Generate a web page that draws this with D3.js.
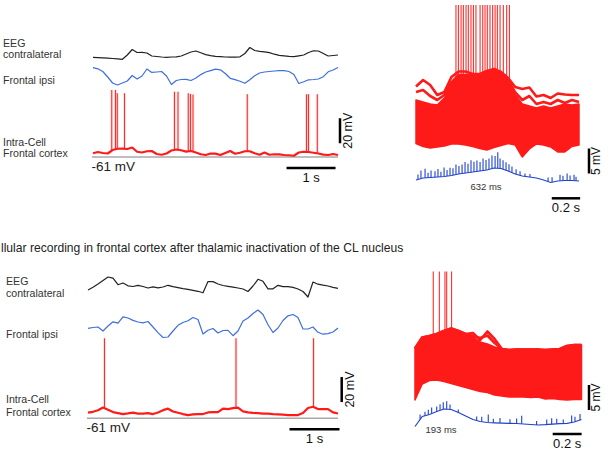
<!DOCTYPE html>
<html>
<head>
<meta charset="utf-8">
<script src="https://cdn.jsdelivr.net/npm/d3@7"></script>
<style>
  body { margin: 0; background: #fff; }
  svg { display: block; }
  text { font-family: "Liberation Sans", Arial, sans-serif; }
</style>
</head>
<body>
<div id="chart"></div>
<script>
// 1: DATA

// left traces, one sample every 0.1 s over 5 s
const leftStep = 0.1;

// control condition (top)
const eegTop = [0, -0.3, -0.6, -0.9, -1.2, -1.6, -2, 2.3, 7.8, 4.8, 4.9, 4.3, 1.3, 0.8, 0.3, 0, 0.3, 0.5, 1.3, 3.3,
  5.3, 6.3, 4.5, 2.7, 1.7, 1, 0.6, 0.3, 0.1, 0.1, 0.5, 3.8, 9.8, 6.8, 6, 5.5, 4.7, 3.1, 1.9, 1.4,
  0.9, 0.7, 1.5, 2.3, 4.8, 6.5, 6.3, 3.8, 1.3, 1.8, 2.3];
const ipsiTop = [17.3, 16.2, 13.5, 8, 2, 0, 2, 4, 9.5, 6, 9, 16, 12.6, 13, 13.5, 9, 0.5, 4.5, 5.5, 5.7,
  4.5, 7, 10.4, 13, 14.4, 15.8, 15.2, 11.5, 6.7, 5.4, 3.7, 1.7, 5.2, 9.2, 12, 13, 13.5, 14, 14.3, 14.3,
  13.5, 10.5, 1.5, 3.2, 5.2, 5.5, 6, 8.3, 13.2, 15, 17.5];
const cellTop = [-58.0, -57.0, -57.8, -58.2, -55.4, -54.4, -54.3, -54.6, -53.4, -56.8, -57.4, -56.4, -56.2, -58.6, -59.2, -58.2, -55.8, -55.0, -55.6, -56.7,
  -56.2, -57.4, -58.8, -59.4, -58.2, -58.3, -59.4, -57.8, -56.2, -58.4, -57.6, -56.4, -56.4, -58.0, -59.2, -57.4, -59.2, -58.8, -58.9, -59.4,
  -59.6, -60.0, -57.4, -56.8, -57.0, -57.6, -58.2, -59.1, -59.4, -58.6, -59.4];
const spikeTimesTop = [0.382, 0.459, 0.496, 0.643, 1.663, 1.735, 1.945, 1.99, 2.041, 3.149, 4.357, 4.398, 4.578];
const spikePeaksTop = [-7.4, -7.4, -10, -10, -8.8, -8.8, -10, -10.5, -11, -10.8, -10.8, -10.8, -10.8];

// after CL inactivation (bottom)
const eegBottom = [0, 2.7, 6, 9.5, 13, 11.8, 5.3, 7, 4.2, 3.5, 4.6, 3.5, 2, 3.2, 2.2, 3, 4.7, 3.4, 2.4, 1.4,
  0.6, -0.3, -1.3, -2.8, 8.5, 8.4, 6, 4.5, 3.6, 2.8, 2, 1, -1.5, 4, 10.7, 8.7, 1.2, 1.2, 4.7, 3.4,
  3.3, 2.6, 1, -1.5, -7, 8, 5.8, 4.8, 4, 2.7, 1.7];
const ipsiBottom = [11.7, 12.5, 13, 9, 14, 18.2, 16.8, 23.2, 22, 19.6, 18, 17.2, 18.5, 13, 7.4, 2.5, 3, 9, 14.7, 17.5,
  19.2, 22.5, 20.5, 6, 9.7, 11.5, 7, 9.5, 9.7, 4.3, 9, 19, 22, 26.5, 30, 25.5, 15.3, 7.5, 12, 19.5,
  24.2, 25.5, 22.5, 11, 11, 13, 7.7, 5.8, 6.4, 8, 12];
const cellBottom = [-56.5, -55.8, -54.6, -52.4, -54.2, -56.0, -56.8, -57.6, -57.1, -56.5, -57.2, -57.2, -56.8, -57.6, -56.3, -54.5, -53.3, -55.6, -56.6, -57.6,
  -58.4, -57.9, -57.6, -57.6, -56.3, -56.0, -56.0, -53.2, -53.6, -52.8, -52.4, -55.4, -56.2, -56.7, -56.9, -57.2, -57.3, -57.6, -57.8, -58.0,
  -58.4, -58.4, -58.4, -56.7, -52.8, -51.8, -53.6, -53.7, -53.6, -56.3, -57.2];
const spikeTimesBottom = [0.33, 2.96, 4.51];
const spikePeaksBottom = [3, 3, 3];

// right panels: superimposed sweeps (mV above the lowest sweep), every 0.05 s
const rightStep = 0.05;
// top: dense part of the sweeps (lo..mid) and two outlying sweeps above it
const bandLoTop = [1.3, 0.7, 0.4, 0.6, 0.8, 1.2, 1.2, 1, 0.7, 0.3, 0, 0.5, 0.9, 1.3, 1, -1.4, 0.2, 1.2, 1, 0.6, -0.4, -0.4, 0.7, 1];
const bandMidTop = [10, 9.6, 9.2, 9, 10.4, 13, 14.8, 15, 14.8, 14.8, 15.2, 15.6, 14.8, 13.6, 11, 9.2, 8.8, 8.4, 8.8, 8.4, 8.8, 9.2, 9, 9.2];
const sweepHiTop = [12.7, 14, 13, 11, 11.6, 14.6, 15.7, 15.7, 15.2, 15.2, 15.8, 16.2, 15.6, 14.4, 12.6, 12.2, 12.5, 10.7, 11, 10.4, 11.3, 11.1, 11, 11];
const sweepMidTop = [11.6, 12, 10.8, 10, 11, 13.5, 15, 15, 15, 15, 15.5, 15.8, 15.2, 14, 11.5, 10, 10.8, 9.2, 9.6, 9.2, 10, 9.4, 10, 9.6];
const burstTimesTop = [0.282, 0.299, 0.318, 0.334, 0.353, 0.369, 0.388, 0.405, 0.423, 0.452, 0.471, 0.487, 0.503, 0.522, 0.541, 0.558, 0.574, 0.593, 0.616, 0.64, 0.659];
const burstPeakTop = 29;
const avgTop = [2, 4, 4.5, 5, 5.5, 6.5, 8, 9, 10, 11, 12, 14, 13.5, 11, 8, 6, 5, 4, 2, -0.5, 1, 1.5, 1.5, 1];
const avgTickTimesTop = [0.014, 0.035, 0.064, 0.085, 0.106, 0.134, 0.155, 0.176, 0.198, 0.219, 0.24, 0.261, 0.282, 0.303, 0.325, 0.346, 0.367, 0.388, 0.409, 0.43, 0.452, 0.473,
  0.494, 0.515, 0.536, 0.558, 0.577, 0.593, 0.614, 0.635, 0.656, 0.677, 0.706, 0.734, 0.769, 0.804, 0.932, 0.96, 1.016, 1.037, 1.066, 1.087, 1.115, 1.129];
const avgTickSizesTop = [5, 8, 9, 5, 7, 6, 8, 5, 9, 6, 8, 7, 10, 8, 9, 11, 9, 12, 10, 11, 9, 12,
  10, 11, 13, 12, 16, 10, 9, 8, 7, 6, 5, 4, 3, 3, 4, 5, 6, 5, 7, 5, 6, 4];

// bottom
const bandLoBottom = [0, 3.2, 3.9, 4, 3.7, 3.3, 2.9, 2.5, 2.1, 1.7, 1.5, 1, 0.8, 0.6, 0.6, 0.6, 0.5, 0.6, 0.2, 0.3, 0.1, 0, 0.1, 0.1];
const bandMidBottom = [10.3, 12.5, 12.8, 13.2, 13.8, 14.3, 13.8, 13.2, 12.6, 11.6, 11.2, 10.6, 10.2, 10, 10.1, 10.1, 10.1, 10.1, 10, 10.1, 10.2, 10.8, 11, 11];
const sweepHiBottom = [10.3, 12.5, 12.8, 13.2, 13.8, 14.3, 13.8, 13.2, 13.4, 12, 13.7, 12.2, 10.2, 10, 10.1, 10.1, 10.1, 10.1, 10, 10.1, 10.2, 10.8, 11, 11];
const sweepMidBottom = [10.3, 12.5, 12.8, 13.2, 13.8, 14.3, 13.8, 13.2, 12.8, 12.4, 12.9, 11.4, 10.2, 10, 10.1, 10.1, 10.1, 10.1, 10, 10.1, 10.2, 10.8, 11, 11];
const burstTimesBottom = [0.126, 0.168, 0.207, 0.219, 0.253];
const burstPeakBottom = 25.7;
const avgBottom = [0.5, 10.5, 12.5, 15.5, 18, 17.5, 14.5, 11, 7.5, 5.5, 4.5, 4.2, 3.9, 3.7, 3.5, 3, 2.5, 2, 2.3, 2.8, 3.4, 3.7, 5, 7.5];
const avgTickTimesBottom = [0.035, 0.069, 0.092, 0.115, 0.15, 0.173, 0.195, 0.219, 0.242, 0.299, 0.426, 0.461, 0.506, 0.541, 0.587, 0.656, 0.702, 0.737, 0.84, 0.91, 0.944, 0.979, 1.024, 1.082, 1.105, 1.14];
const avgTickSizesBottom = [5, 4, 5, 6, 5, 6, 7, 8, 5, 3, 4, 5, 8, 4, 5, 4, 5, 8, 4, 5, 6, 5, 4, 7, 5, 6];

// texts
const traceLabels = [["EEG", "contralateral"], ["Frontal ipsi"], ["Intra-Cell", "Frontal cortex"]];
const sectionTitle = "llular recording in frontal cortex after thalamic inactivation of the CL nucleus";
const restLabel = "-61 mV";
const latencyLabels = ["632 ms", "193 ms"];

// 2: SVG
const svg = d3.select("#chart").append("svg")
  .attr("width", 608)
  .attr("height", 462);

const red = "#ff1a1a";

// ==========================================
//         LEFT PANELS: continuous traces
// ==========================================
function leftPanel(p) {
  const times = p.eeg.map((d, i) => i * leftStep);
  const x = d3.scaleLinear().domain([0, 5]).range(p.xRange);
  const yEeg = d3.scaleLinear().domain([0, 10]).range([p.eegY, p.eegY - 10]);
  const yIpsi = d3.scaleLinear().domain([0, 10]).range([p.ipsiY, p.ipsiY - 10]);
  const yCell = d3.scaleLinear().domain([-61, -41]).range([p.restY, p.restY - 25]);
  const cellAt = d3.scaleLinear().domain(times).range(p.cell);

  const g = svg.append("g");

  // resting potential line
  g.append("line")
    .attr("x1", x(0) - 1).attr("x2", x(5))
    .attr("y1", yCell(-61)).attr("y2", yCell(-61))
    .attr("stroke", "#a8a8a8").attr("stroke-width", 1.5);

  g.append("path").datum(p.eeg)
    .attr("fill", "none").attr("stroke", "#222").attr("stroke-width", 1.2)
    .attr("stroke-linejoin", "round")
    .attr("d", d3.line().x((d, i) => x(times[i])).y(d => yEeg(d)));

  g.append("path").datum(p.ipsi)
    .attr("fill", "none").attr("stroke", "#3f6fdc").attr("stroke-width", 1.2)
    .attr("stroke-linejoin", "round")
    .attr("d", d3.line().x((d, i) => x(times[i])).y(d => yIpsi(d)));

  // action potentials
  g.selectAll(".halo").data(p.spikes).enter().append("line")
    .attr("x1", d => x(d.t)).attr("x2", d => x(d.t))
    .attr("y1", d => yCell(cellAt(d.t))).attr("y2", d => yCell(d.peak))
    .attr("stroke", "#ff9a9a").attr("stroke-width", 2.4).attr("opacity", 0.45);
  g.selectAll(".spike").data(p.spikes).enter().append("line")
    .attr("x1", d => x(d.t)).attr("x2", d => x(d.t))
    .attr("y1", d => yCell(cellAt(d.t))).attr("y2", d => yCell(d.peak))
    .attr("stroke", red).attr("stroke-width", 0.9);

  g.append("path").datum(p.cell)
    .attr("fill", "none").attr("stroke", red).attr("stroke-width", 2.2)
    .attr("stroke-linejoin", "round")
    .attr("d", d3.line().x((d, i) => x(times[i])).y(d => yCell(d)));

  // scale bars
  g.append("line")
    .attr("x1", x(p.barEnd - 1)).attr("x2", x(p.barEnd))
    .attr("y1", p.restY + 11).attr("y2", p.restY + 11)
    .attr("stroke", "#000").attr("stroke-width", 2.5);
  g.append("text")
    .attr("x", x(p.barEnd - 0.5)).attr("y", p.restY + 24.5)
    .attr("text-anchor", "middle").attr("font-size", "13px").attr("fill", "#111")
    .text("1 s");

  const bx = x(5) + p.vBarDx;
  g.append("line")
    .attr("x1", bx).attr("x2", bx)
    .attr("y1", yCell(p.vBarFrom)).attr("y2", yCell(p.vBarFrom + 20))
    .attr("stroke", "#000").attr("stroke-width", 2.5);
  g.append("text")
    .attr("transform", `translate(${bx + 12},${yCell(p.vBarFrom + 10)}) rotate(-90)`)
    .attr("text-anchor", "middle").attr("font-size", "12.5px").attr("fill", "#111")
    .text("20 mV");

  g.append("text")
    .attr("x", x(0) - 1.5).attr("y", p.restY + 13.5)
    .attr("font-size", "13.5px").attr("fill", "#222")
    .text(restLabel);

  // trace labels
  p.labelY.forEach((ys, k) => {
    ys.forEach((yy, j) => {
      g.append("text")
        .attr("x", p.labelX).attr("y", yy)
        .attr("font-size", "10.6px").attr("fill", "#333")
        .text(traceLabels[k][j]);
    });
  });
}

leftPanel({
  eeg: eegTop, ipsi: ipsiTop, cell: cellTop,
  spikes: spikeTimesTop.map((t, i) => ({ t: t, peak: spikePeaksTop[i] })),
  xRange: [93, 338], eegY: 57.3, ipsiY: 85, restY: 157,
  barEnd: 4.95, vBarDx: 2, vBarFrom: -50,
  labelX: 3, labelY: [[46.8, 58.3], [84.3], [145.7, 156.7]]
});

leftPanel({
  eeg: eegBottom, ipsi: ipsiBottom, cell: cellBottom,
  spikes: spikeTimesBottom.map((t, i) => ({ t: t, peak: spikePeaksBottom[i] })),
  xRange: [88, 338], eegY: 290, ipsiY: 340, restY: 418.3,
  barEnd: 5.03, vBarDx: 3.7, vBarFrom: -48,
  labelX: 6, labelY: [[285, 296.7], [338.3], [402.7, 416]]
});

// ==========================================
//         RIGHT PANELS: superimposed sweeps
// ==========================================
function rightPanel(p) {
  const times = p.lo.map((d, i) => i * rightStep);
  const tEnd = times[times.length - 1];
  const x = d3.scaleLinear().domain([0, tEnd]).range(p.xRange);
  const y = d3.scaleLinear().domain([0, 5]).range([p.zeroY, p.zeroY - 25]);
  const yAvg = d3.scaleLinear().domain([0, 10]).range([p.avgY, p.avgY - 10]);
  const hiAt = d3.scaleLinear().domain(times).range(p.mid);
  const avgAt = d3.scaleLinear().domain(times).range(p.avg);
  const sweepLine = d3.line().x((d, i) => x(times[i])).y(d => y(d));

  const g = svg.append("g");

  // burst spikes
  g.selectAll(".burst").data(p.burst).enter().append("line")
    .attr("x1", d => x(d)).attr("x2", d => x(d))
    .attr("y1", d => y(hiAt(d) - 2)).attr("y2", y(p.burstPeak))
    .attr("stroke", red).attr("stroke-width", 1);

  // dense part of the superimposed sweeps
  g.append("path").datum(times)
    .attr("fill", red).attr("stroke", red).attr("stroke-width", 1.5)
    .attr("stroke-linejoin", "round")
    .attr("d", d3.area()
      .x(d => x(d))
      .y0((d, i) => y(p.lo[i]))
      .y1((d, i) => y(p.mid[i])));

  // outlying sweeps
  p.sweeps.forEach(s => {
    g.append("path").datum(s)
      .attr("fill", "none").attr("stroke", red).attr("stroke-width", 2.6)
      .attr("stroke-linejoin", "round")
      .attr("d", sweepLine);
  });

  // averaged field potential
  g.append("path").datum(p.avg)
    .attr("fill", "none").attr("stroke", "#1f42cc").attr("stroke-width", 1.2)
    .attr("d", d3.line().x((d, i) => x(times[i])).y(d => yAvg(d)));
  g.selectAll(".tick").data(p.ticks).enter().append("line")
    .attr("x1", d => x(d.t)).attr("x2", d => x(d.t))
    .attr("y1", d => yAvg(avgAt(d.t))).attr("y2", d => yAvg(avgAt(d.t)) - d.h)
    .attr("stroke", "#1f42cc").attr("stroke-width", 1.1);

  g.append("text")
    .attr("x", p.latX).attr("y", p.avgY + p.latDy)
    .attr("text-anchor", "middle").attr("font-size", "9.5px").attr("fill", "#333")
    .text(p.latency);

  // scale bars
  g.append("line")
    .attr("x1", x(p.hBarEnd - 0.2)).attr("x2", x(p.hBarEnd))
    .attr("y1", p.hBarY).attr("y2", p.hBarY)
    .attr("stroke", "#000").attr("stroke-width", 2.5);
  g.append("text")
    .attr("x", x(p.hBarEnd - 0.1)).attr("y", p.hBarY + 14)
    .attr("text-anchor", "middle").attr("font-size", "13px").attr("fill", "#111")
    .text("0.2 s");

  const bx = x(tEnd) + p.vBarDx;
  g.append("line")
    .attr("x1", bx).attr("x2", bx)
    .attr("y1", y(p.vBarFrom)).attr("y2", y(p.vBarFrom + 5))
    .attr("stroke", "#000").attr("stroke-width", 2.5);
  g.append("text")
    .attr("transform", `translate(${bx + 11},${y(p.vBarFrom + 2.5)}) rotate(-90)`)
    .attr("text-anchor", "middle").attr("font-size", "12px").attr("fill", "#111")
    .text("5 mV");
}

rightPanel({
  lo: bandLoTop, mid: bandMidTop, sweeps: [sweepHiTop, sweepMidTop],
  burst: burstTimesTop, burstPeak: burstPeakTop,
  avg: avgTop, ticks: avgTickTimesTop.map((t, i) => ({ t: t, h: avgTickSizesTop[i] })),
  xRange: [416, 579], zeroY: 150, avgY: 182,
  latency: latencyLabels[0], latX: 486, latDy: 7.5,
  hBarEnd: 1.158, hBarY: 198.3, vBarDx: 10, vBarFrom: -4.7
});

rightPanel({
  lo: bandLoBottom, mid: bandMidBottom, sweeps: [sweepHiBottom, sweepMidBottom],
  burst: burstTimesBottom, burstPeak: burstPeakBottom,
  avg: avgBottom, ticks: avgTickTimesBottom.map((t, i) => ({ t: t, h: avgTickSizesBottom[i] })),
  xRange: [415, 581.5], zeroY: 400, avgY: 427,
  latency: latencyLabels[1], latX: 441, latDy: 5.5,
  hBarEnd: 1.151, hBarY: 434, vBarDx: 7.5, vBarFrom: -2
});

// section title (cut at the left edge like the source figure)
svg.append("text")
  .attr("x", 1).attr("y", 251.5)
  .attr("font-size", "12.1px").attr("fill", "#222")
  .text(sectionTitle);
</script>
</body>
</html>
